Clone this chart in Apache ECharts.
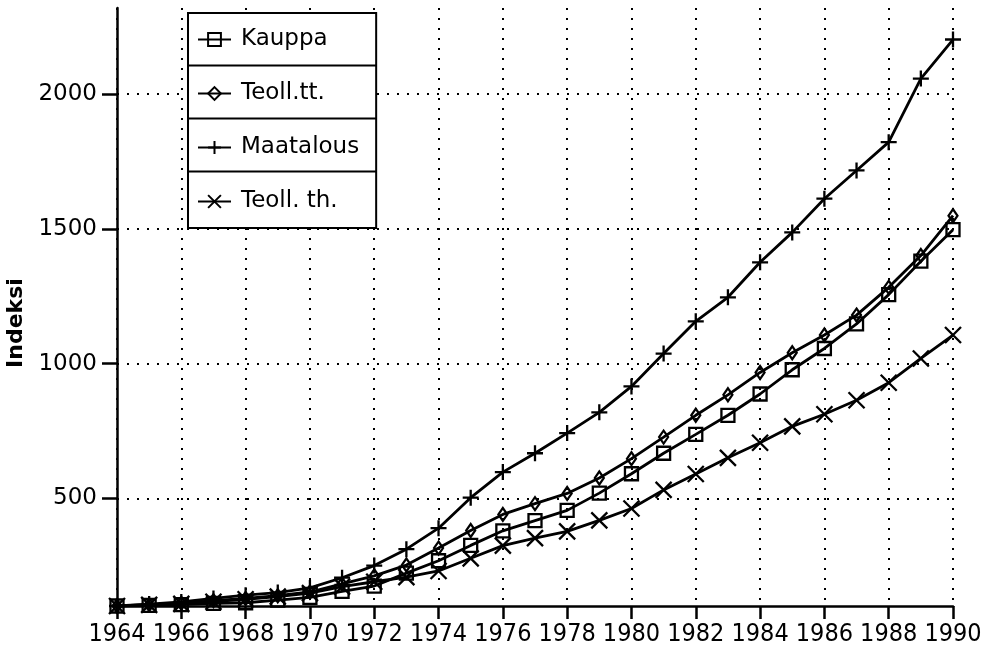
<!DOCTYPE html>
<html>
<head>
<meta charset="utf-8">
<script src="https://cdn.jsdelivr.net/npm/echarts@6.0.0/dist/echarts.min.js"></script>
<style>
  html, body { margin: 0; padding: 0; background: #fff; }
  #main { width: 987px; height: 661px; }
</style>
</head>
<body>
<div id="main"></div>
<script>
// data (index, 1964 = 100)
var years = [1964, 1965, 1966, 1967, 1968, 1969, 1970, 1971, 1972, 1973, 1974, 1975, 1976, 1977,
  1978, 1979, 1980, 1981, 1982, 1983, 1984, 1985, 1986, 1987, 1988, 1989, 1990];
var kauppa = [100, 102, 105, 110, 112, 122, 132, 154, 174, 222, 268, 325, 379, 417,
  455, 519, 591, 667, 737, 808, 887, 977, 1056, 1147, 1256, 1380, 1497];
var teollTT = [100, 105, 110, 120, 128, 138, 152, 182, 212, 252, 315, 380, 440, 480,
  518, 575, 647, 727, 808, 884, 967, 1040, 1106, 1180, 1283, 1401, 1549];
var maatalous = [100, 107, 115, 128, 140, 150, 167, 205, 250, 311, 389, 502, 597, 667,
  742, 819, 915, 1037, 1157, 1246, 1376, 1487, 1612, 1717, 1822, 2058, 2203];
var teollTH = [100, 104, 108, 116, 125, 135, 148, 172, 190, 207, 230, 277, 324, 352,
  377, 418, 462, 531, 590, 650, 706, 767, 812, 864, 929, 1019, 1106];
var seriesNames = ["Kauppa", "Teoll.tt.", "Maatalous", "Teoll. th."];
var yTicks = [500, 1000, 1500, 2000];

var chartDom = document.getElementById("main");
var myChart = echarts.init(chartDom);

var labelFont = "'DejaVu Sans', sans-serif";
var narrowFont = "'DejaVu Sans Condensed', 'DejaVu Sans', sans-serif";

var plusPath = "path://M0 5 L10 5 M5 0 L5 10";
var crossPath = "path://M0 0 L10 10 M10 0 L0 10";

function pairs(vals) {
  return years.map(function (y, i) { return [y, vals[i]]; });
}

function lineSeries(name, vals, symbol, size) {
  return {
    name: name,
    type: "line",
    data: pairs(vals),
    symbol: symbol,
    symbolSize: size,
    showSymbol: true,
    lineStyle: { color: "#000", width: 2.8 },
    itemStyle: { color: "rgba(0,0,0,0)", borderColor: "#000", borderWidth: 2.3 },
    emphasis: { disabled: true }
  };
}

// legend box geometry
var legTop = 13, legLeft = 188, legRight = 376;
var padTop = 15, itemH = 22, gap = 31;
var separators = [0, 1, 2].map(function (i) {
  var y = legTop + padTop + itemH + gap / 2 + i * (itemH + gap);
  return {
    type: "line",
    shape: { x1: legLeft, y1: y, x2: legRight, y2: y },
    style: { stroke: "#000", lineWidth: 2 },
    z: 100
  };
});

var option = {
  backgroundColor: "#fff",
  animation: false,
  grid: { left: 117, right: 34, top: 8, bottom: 55, outerBoundsMode: "none", containLabel: false },
  legend: {
    orient: "vertical",
    left: legLeft,
    top: legTop,
    data: seriesNames,
    itemWidth: 33,
    itemHeight: 16,
    itemGap: gap,
    padding: [padTop, 17, padTop, 9],
    borderColor: "#000",
    borderWidth: 2,
    backgroundColor: "#fff",
    textStyle: {
      fontFamily: labelFont,
      fontSize: 23,
      lineHeight: itemH,
      color: "#000",
      padding: [0, 0, 0, 5]
    }
  },
  graphic: separators,
  xAxis: {
    type: "value",
    min: 1964,
    max: 1990,
    interval: 2,
    axisLine: { show: true, lineStyle: { color: "#000", width: 2.5 } },
    axisTick: { show: true, length: 13, lineStyle: { color: "#000", width: 2.5 } },
    axisLabel: {
      fontFamily: narrowFont,
      fontSize: 25,
      color: "#000",
      margin: 16,
      showMinLabel: true,
      showMaxLabel: true,
      hideOverlap: false,
      formatter: function (v) { return String(v); }
    },
    splitLine: { show: true, lineStyle: { color: "#000", width: 2, type: [2, 8] } }
  },
  yAxis: {
    type: "value",
    min: 100,
    max: 2320,
    name: "Indeksi",
    nameLocation: "middle",
    nameGap: 73,
    nameTextStyle: {
      fontFamily: labelFont,
      fontSize: 22,
      fontWeight: "bold",
      color: "#000",
      padding: [0, 32, 0, 0]
    },
    axisLine: { show: true, lineStyle: { color: "#000", width: 2.5 } },
    axisTick: { show: true, length: 15, customValues: yTicks, lineStyle: { color: "#000", width: 2.5 } },
    axisLabel: {
      customValues: yTicks,
      fontFamily: labelFont,
      fontSize: 23,
      color: "#000",
      margin: 20,
      formatter: function (v) { return String(v); }
    },
    splitLine: { show: true, lineStyle: { color: "#000", width: 2, type: [2, 8] } }
  },
  series: [
    lineSeries(seriesNames[0], kauppa, "rect", 13),
    lineSeries(seriesNames[1], teollTT, "diamond", [9, 13]),
    lineSeries(seriesNames[2], maatalous, plusPath, 16),
    lineSeries(seriesNames[3], teollTH, crossPath, 16)
  ]
};

option && myChart.setOption(option);
</script>
</body>
</html>
